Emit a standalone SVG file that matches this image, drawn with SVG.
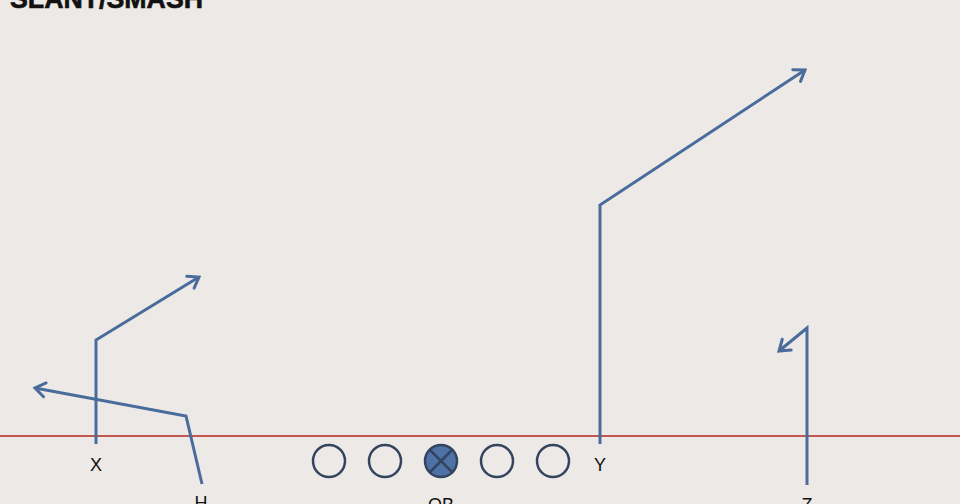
<svg xmlns="http://www.w3.org/2000/svg" width="960" height="504" viewBox="0 0 960 504">
<style>
.route{fill:none;stroke:#4A6C9C;stroke-width:3;stroke-linejoin:miter}
.lbl{font-family:"Liberation Sans",Arial,sans-serif;font-size:18px;fill:#111;text-anchor:middle}
.lineman{fill:none;stroke:#33455E;stroke-width:2.5}
</style>
<defs>
<marker id="arr" markerUnits="userSpaceOnUse" markerWidth="20" markerHeight="20" refX="12" refY="8" orient="auto" viewBox="0 0 20 16">
<path d="M2,1 L12,8 L2,15" fill="none" stroke="#4A6C9C" stroke-width="3" stroke-linecap="round" stroke-linejoin="miter"/>
</marker>
</defs>
<rect width="960" height="504" fill="#ECE9E6"/>
<text x="10" y="8" font-family="'Liberation Sans',Arial,sans-serif" font-weight="bold" font-size="27" fill="#111" stroke="#111" stroke-width="0.6" textLength="193" lengthAdjust="spacingAndGlyphs">SLANT/SMASH</text>
<line id="los" x1="0" y1="436" x2="960" y2="436" stroke="#B5261E" stroke-width="1.4"/>
<g id="connectors">
<polyline class="route" points="96,444 96,340 199,277" marker-end="url(#arr)"/>
<polyline class="route" points="202,484 186,416 35,388" marker-end="url(#arr)"/>
<polyline class="route" points="600,444 600,205 805,70" marker-end="url(#arr)"/>
<polyline class="route" points="807,485 807,328 779,351" marker-end="url(#arr)"/>
</g>
<g id="node-X"><text class="lbl" x="96" y="471">X</text></g>
<g id="node-H"><text class="lbl" x="201" y="509">H</text></g>
<g id="node-LT"><circle class="lineman" cx="329" cy="461" r="16"/></g>
<g id="node-LG"><circle class="lineman" cx="385" cy="461" r="16"/></g>
<g id="node-C"><circle cx="441" cy="461" r="16" fill="#4F72A6" stroke="#33455E" stroke-width="2.5"/><path d="M430,450 L452,472 M452,450 L430,472" stroke="#33455E" stroke-width="2.5"/></g>
<g id="node-RG"><circle class="lineman" cx="497" cy="461" r="16"/></g>
<g id="node-RT"><circle class="lineman" cx="553" cy="461" r="16"/></g>
<g id="node-QB"><text class="lbl" x="441" y="511">QB</text></g>
<g id="node-Y"><text class="lbl" x="600" y="471">Y</text></g>
<g id="node-Z"><text class="lbl" x="807" y="511">Z</text></g>
</svg>
